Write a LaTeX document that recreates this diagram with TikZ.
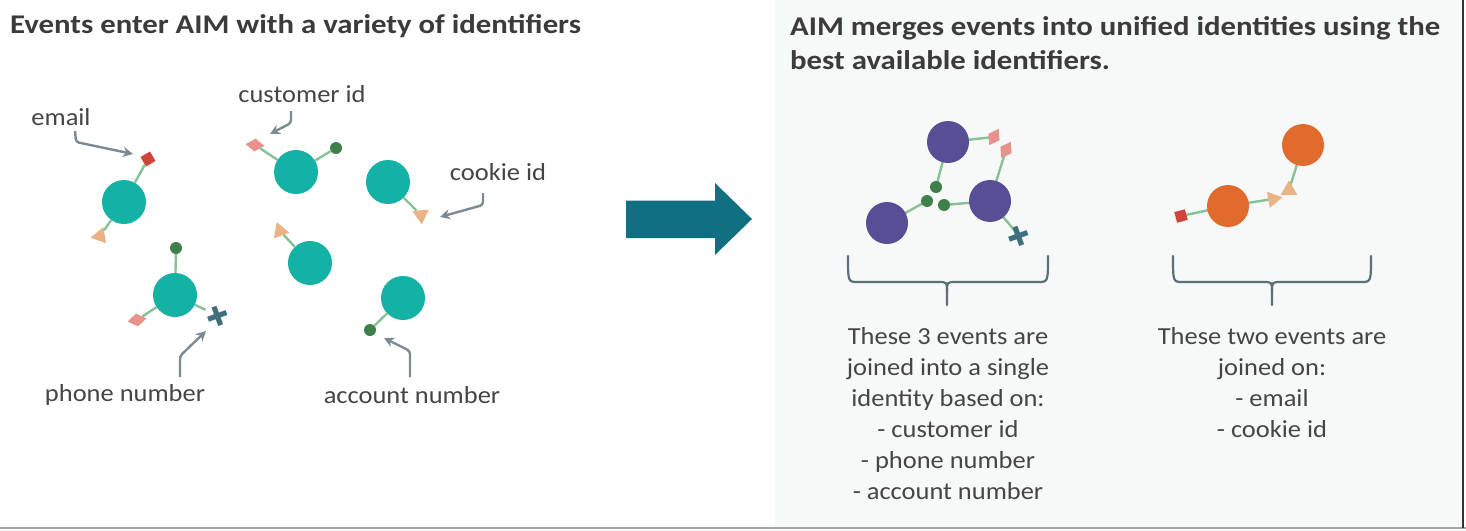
\documentclass[tikz,border=0pt]{standalone}
\usepackage{fontspec}
\setmainfont{Carlito}
\newfontfamily\lblfont[FakeStretch=1.08]{Carlito}
\newfontfamily\ttlfont[FakeStretch=1.14]{Carlito}
\newfontfamily\symfont{DejaVu Sans}
\usetikzlibrary{shapes.geometric,arrows.meta}

\definecolor{evteal}{HTML}{14B2A4}
\definecolor{evpurple}{HTML}{574E96}
\definecolor{evorange}{HTML}{E06B2C}
\definecolor{linkgreen}{HTML}{86C296}
\definecolor{dotgreen}{HTML}{3E7F4A}
\definecolor{sqred}{HTML}{CF4539}
\definecolor{diapink}{HTML}{E8928C}
\definecolor{tripeach}{HTML}{EBB285}
\definecolor{crossteal}{HTML}{3F6E7C}
\definecolor{calloutgrey}{HTML}{7C8B93}
\definecolor{bracegrey}{HTML}{5C7077}
\definecolor{bigarrow}{HTML}{0E7080}
\definecolor{txt}{HTML}{454545}
\definecolor{paneltint}{HTML}{F7F8F8}

\begin{document}
\begin{tikzpicture}[x=1pt,y=-1pt,
  event/.style={circle,minimum size=44pt,inner sep=0pt,fill=#1},
  event/.default=evteal,
  mevent/.style={circle,minimum size=42pt,inner sep=0pt,fill=#1},
  idsq/.style={rectangle,minimum size=11pt,inner sep=0pt,fill=sqred,rotate=#1},
  iddia/.style={diamond,minimum width=19pt,minimum height=13pt,inner sep=0pt,fill=diapink,rotate=#1},
  idtri/.style={regular polygon,regular polygon sides=3,minimum size=19pt,inner sep=0pt,fill=tripeach,rotate=#1},
  iddot/.style={circle,minimum size=12pt,inner sep=0pt,fill=dotgreen},
  idcross/.style={inner sep=0pt,text=crossteal,font=\symfont\fontsize{27}{27}\selectfont,rotate=#1},
  link/.style={draw=linkgreen,line width=2.4pt},
  callout/.style={draw=calloutgrey,line width=2.4pt,rounded corners=3pt,-{Stealth[length=10pt,width=10pt]}},
  brace/.style={draw=bracegrey,line width=2.2pt,line cap=round},
  lbl/.style={text=txt,font=\lblfont\fontsize{24.5}{31}\selectfont,inner sep=0pt,anchor=base},
  ttl/.style={text=txt!85!black,font=\ttlfont\bfseries\fontsize{27}{34}\selectfont,inner sep=0pt,anchor=base west}
]
\useasboundingbox (0,0) rectangle (1466,530);
\fill[white] (0,0) rectangle (1466,530);
\fill[paneltint] (775,0) rectangle (1462,527);
\draw[gray!70,line width=2pt] (0,528) -- (1466,528);
\draw[black!80,line width=2pt] (1463,0) -- (1463,528);

% ---- headings
\node[ttl] (tleft) at (10,33) {Events enter AIM with a variety of identifiers};
\node[ttl] (tright1) at (790,35) {AIM merges events into unified identities using the};
\node[ttl] (tright2) at (790,69) {best available identifiers.};

% ---- separate events
\node[event] (a) at (124,202) {};
\node[idsq=30] (asq) at (148,159) {};
\node[idtri=-20] (atri) at (100,236) {};
\node[event] (b) at (296,172) {};
\node[iddia=-5] (bdia) at (255,145) {};
\node[iddot] (bdot) at (336,148) {};
\node[event] (c) at (388,182) {};
\node[idtri=185] (ctri) at (421,215) {};
\node[event] (d) at (310,263) {};
\node[idtri=20] (dtri) at (280,231) {};
\node[event] (e) at (403,298) {};
\node[iddot] (edot) at (370,330) {};
\node[event] (f) at (175,295) {};
\node[iddot] (fdot) at (176,248) {};
\node[iddia=10] (fdia) at (137,320) {};
\node[idcross=20] (fx) at (218,316) {✚};

\draw[link] (a) -- (asq);
\draw[link] (a) -- (atri);
\draw[link] (b) -- (bdia);
\draw[link] (b) -- (bdot);
\draw[link] (c) -- (ctri);
\draw[link] (d) -- (dtri);
\draw[link] (e) -- (edot);
\draw[link] (f) -- (fdot);
\draw[link] (f) -- (fdia);
\draw[link] (f) -- (fx);

% ---- identifier labels and callouts
\node[lbl] (lemail) at (61,125) {email};
\node[lbl] (lcust) at (302,102) {customer id};
\node[lbl] (lcookie) at (498,180) {cookie id};
\node[lbl] (lphone) at (125,401) {phone number};
\node[lbl] (lacct) at (412,403) {account number};

\coordinate (cemail0) at (75,131);   \coordinate (cemail1) at (133,154);
\coordinate (ccust0) at (291,111);   \coordinate (ccust1) at (270,134);
\coordinate (ccook0) at (483,193);   \coordinate (ccook1) at (440,217);
\coordinate (cphone0) at (180,377);  \coordinate (cphone1) at (206,331);
\coordinate (cacct0) at (410,377);   \coordinate (cacct1) at (384,338);
\draw[callout] (cemail0) -- (76,142) -- (cemail1);
\draw[callout] (ccust0) -- (291,123) -- (ccust1);
\draw[callout] (ccook0) -- (483,205) -- (ccook1);
\draw[callout] (cphone0) -- (180,356) -- (cphone1);
\draw[callout] (cacct0) -- (410,351) -- (cacct1);

% ---- big arrow
\fill[bigarrow] (626,200.5) -- (715,200.5) -- (715,183) -- (752,219)
  -- (715,255) -- (715,238) -- (626,238) -- cycle;

% ---- merged identity (three events)
\draw[link] (948,142) -- (994,137);
\draw[link] (990,201) -- (1006,150);
\draw[link] (948,142) -- (936,187);
\draw[link] (887,223) -- (927,201);
\draw[link] (990,201) -- (944,205);
\draw[link] (990,201) -- (1019,236);
\node[mevent=evpurple] (p1) at (948,142) {};
\node[mevent=evpurple] (p2) at (990,201) {};
\node[mevent=evpurple] (p3) at (887,223) {};
\node[iddia=60] (pd1) at (994,137) {};
\node[iddia=60] (pd2) at (1006,150) {};
\node[iddot] (pg1) at (936,187) {};
\node[iddot] (pg2) at (927,201) {};
\node[iddot] (pg3) at (944,205) {};
\node[idcross=20] (px) at (1019,236) {✚};

% ---- merged identity (two events)
\draw[link] (1228,206) -- (1181,216);
\draw[link] (1228,206) -- (1273,199);
\draw[link] (1303,145) -- (1289,190);
\node[mevent=evorange] (o1) at (1303,145) {};
\node[mevent=evorange] (o2) at (1228,206) {};
\node[idsq=15] (osq) at (1181,216) {};
\node[idtri=-80] (ot1) at (1273,199) {};
\node[idtri=120] (ot2) at (1289,190) {};

% ---- braces
\draw[brace] (848,256) .. controls (848,282) .. (858,282) -- (938,282)
  .. controls (947,282) .. (947,292) -- (947,305);
\draw[brace] (1048,256) .. controls (1048,282) .. (1038,282) -- (956,282)
  .. controls (947,282) .. (947,292);
\draw[brace] (1173,256) .. controls (1173,282) .. (1183,282) -- (1263,282)
  .. controls (1272,282) .. (1272,292) -- (1272,305);
\draw[brace] (1371,256) .. controls (1371,282) .. (1361,282) -- (1281,282)
  .. controls (1272,282) .. (1272,292);

% ---- explanations
\foreach \t [count=\i] in {These 3 events are, joined into a single,
    identity based on:, - customer id, - phone number, - account number}
  \node[lbl] (jthree\i) at (948,{344+31*(\i-1)}) {\t};
\foreach \t [count=\i] in {These two events are, joined on:, - email, - cookie id}
  \node[lbl] (jtwo\i) at (1272,{344+31*(\i-1)}) {\t};
\end{tikzpicture}
\end{document}
